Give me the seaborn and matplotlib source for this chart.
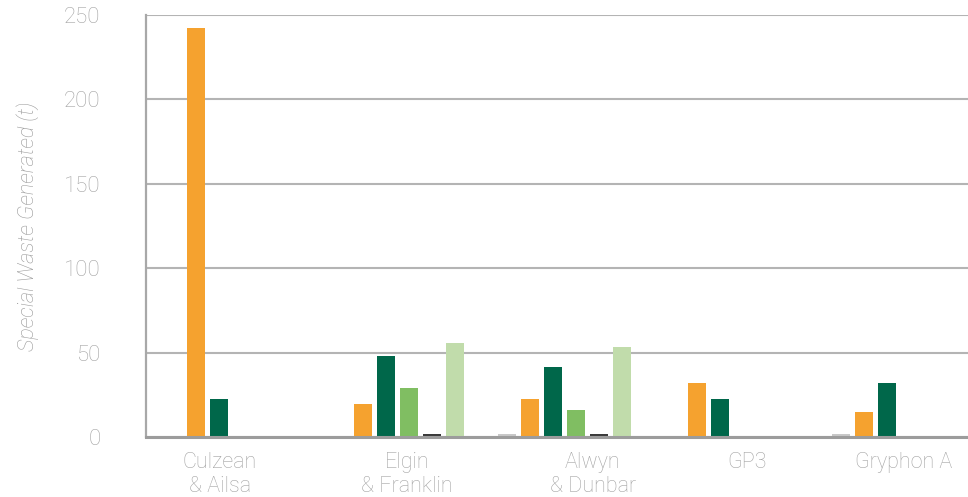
import matplotlib
matplotlib.use("Agg")
import matplotlib.pyplot as plt
import seaborn as sns
import pandas as pd

# Sites and waste streams
sites = ["Culzean\n& Ailsa", "Elgin\n& Franklin", "Alwyn\n& Dunbar", "GP3", "Gryphon A"]
streams = ["Stream 1", "Stream 2", "Stream 3", "Stream 4", "Stream 5", "Stream 6"]

# Tonnes of special waste per stream, one list per stream (site order as above)
stream_1 = [0.0, 0.0, 2.0, 0.0, 2.0]
stream_2 = [242.0, 19.5, 22.5, 32.0, 15.0]
stream_3 = [22.5, 48.0, 41.5, 22.5, 32.0]
stream_4 = [0.0, 29.0, 16.0, 0.0, 0.0]
stream_5 = [0.0, 2.0, 2.0, 0.0, 0.0]
stream_6 = [0.0, 55.5, 53.0, 0.0, 0.0]

y_ticks = [0, 50, 100, 150, 200, 250]

palette = ["#c8c8c8", "#f5a22f", "#00674a", "#80be62", "#3a3a3a", "#c1dcab"]

rows = []
for name, vals in zip(streams, [stream_1, stream_2, stream_3, stream_4, stream_5, stream_6]):
    for site, v in zip(sites, vals):
        rows.append({"site": site, "stream": name, "tonnes": v})
df = pd.DataFrame(rows)

sns.set_theme(style="white")
plt.rcParams["font.family"] = ["Roboto", "DejaVu Sans"]

fig = plt.figure(figsize=(9.68, 4.97), dpi=100)
ax = fig.add_axes([0.1513, 0.1207, 0.8487, 0.8501])

sns.barplot(data=df, x="site", y="tonnes", hue="stream", order=sites,
            hue_order=streams, palette=palette, width=0.826, gap=0.22,
            linewidth=0, saturation=1, legend=False, ax=ax)

ax.set_xlim(-0.503, 4.416)
ax.set_ylim(0, 250)
ax.set_yticks(y_ticks)
ax.yaxis.grid(True, color="#b4b4b4", linewidth=1.5)
ax.xaxis.grid(False)
ax.set_axisbelow(True)

for s in ["top", "right"]:
    ax.spines[s].set_visible(False)
ax.spines["left"].set_color("#a8a8a8")
ax.spines["left"].set_linewidth(1.6)
ax.spines["bottom"].set_color("#9c9c9c")
ax.spines["bottom"].set_linewidth(2.2)

label_offsets = [-0.063, 0.057, 0.17, 0.093, 0.03]
ax.set_xticks([i + o for i, o in enumerate(label_offsets)])
ax.set_xticklabels(sites, linespacing=1.2)

ax.tick_params(axis="y", length=0, pad=33, labelsize=16, labelcolor="#a3a3a3")
ax.tick_params(axis="x", length=0, pad=10.5, labelsize=15.5, labelcolor="#a3a3a3")
for t in ax.get_xticklabels() + ax.get_yticklabels():
    t.set_fontweight("light")

ax.set_xlabel("")
ax.set_ylabel("Special Waste Generated (t)", fontsize=15.5, color="#999999",
              style="italic", fontweight="light", labelpad=18)

fig.savefig("out.png", dpi=100)
